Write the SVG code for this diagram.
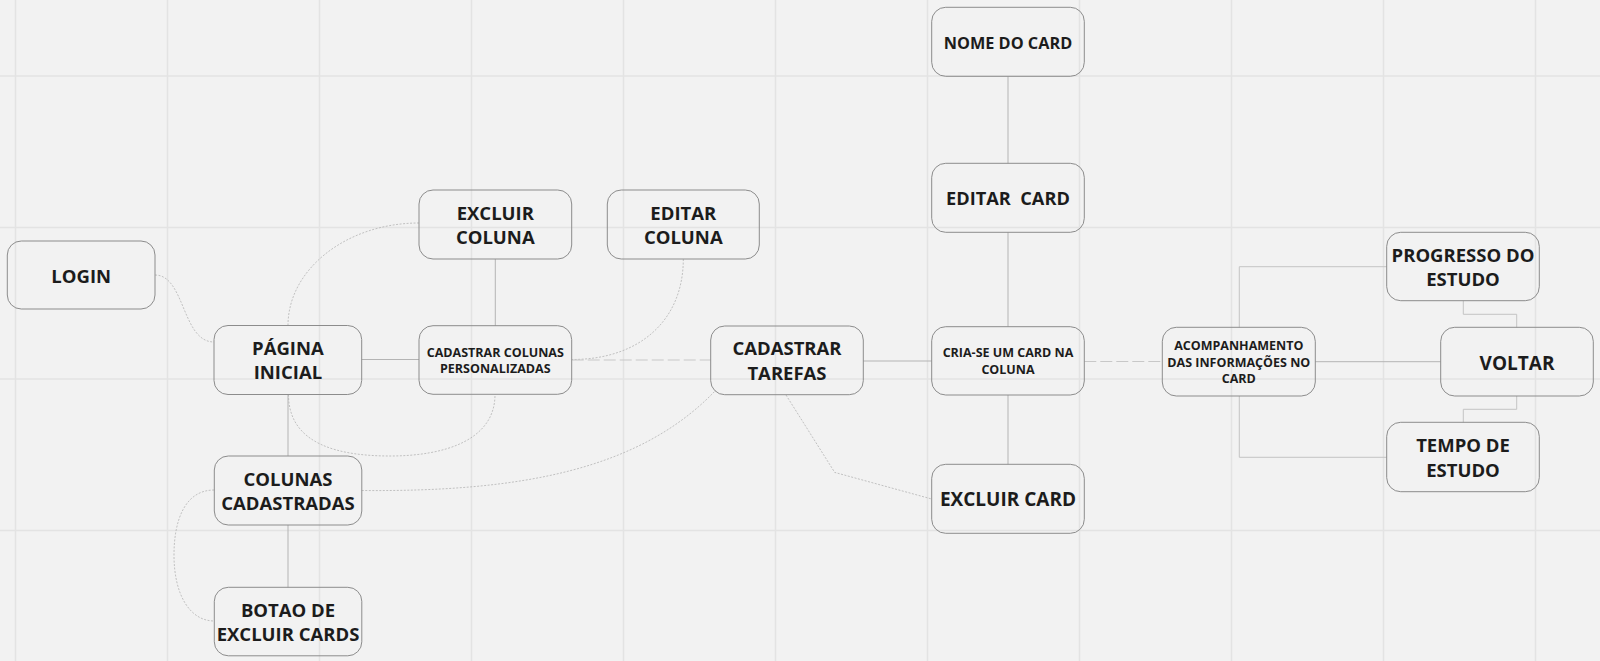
<svg xmlns="http://www.w3.org/2000/svg" width="1600" height="661" viewBox="0 0 1600 661">
<style>
.grid line{stroke:#e3e3e3;stroke-width:1.5}
.node rect{fill:none;stroke:#8c8c8c;stroke-width:1}
.node text{font-family:"Open Sans","Liberation Sans",sans-serif;font-weight:700;fill:#1c1c1c;text-anchor:middle}
.lg{font-size:18.5px}
.sm{font-size:12.5px}
.solid{fill:none;stroke:#b4b4b4;stroke-width:1}
.elbow{fill:none;stroke:#c4c4c4;stroke-width:1}
.dot{fill:none;stroke:#ababab;stroke-width:0.7;stroke-dasharray:2 1.5}
.dash{fill:none;stroke:#c8c8c8;stroke-width:1;stroke-dasharray:12 4}
</style>
<rect x="0" y="0" width="1600" height="661" fill="#f2f2f2"/>
<g class="grid">
<line x1="15.5" y1="0" x2="15.5" y2="661"/>
<line x1="167.5" y1="0" x2="167.5" y2="661"/>
<line x1="319.5" y1="0" x2="319.5" y2="661"/>
<line x1="471.5" y1="0" x2="471.5" y2="661"/>
<line x1="623.5" y1="0" x2="623.5" y2="661"/>
<line x1="775.5" y1="0" x2="775.5" y2="661"/>
<line x1="927.5" y1="0" x2="927.5" y2="661"/>
<line x1="1079.5" y1="0" x2="1079.5" y2="661"/>
<line x1="1231.5" y1="0" x2="1231.5" y2="661"/>
<line x1="1383.5" y1="0" x2="1383.5" y2="661"/>
<line x1="1535.5" y1="0" x2="1535.5" y2="661"/>
<line x1="0" y1="76" x2="1600" y2="76"/>
<line x1="0" y1="227.5" x2="1600" y2="227.5"/>
<line x1="0" y1="379" x2="1600" y2="379"/>
<line x1="0" y1="530.5" x2="1600" y2="530.5"/>
</g>
<g id="connectors">
<path class="dot" d="M155,275 C185,275 182,342 214,342"/>
<path class="dot" d="M288,325.5 C288,269 347,223 419,223"/>
<path class="solid" d="M361.7,359.5 H419"/>
<path class="dot" d="M288.5,394.5 C288.5,445 340,456 390,456 C445,456 495,440 495,394.5"/>
<path class="solid" d="M288,394.5 V456 M288,525 V587.3"/>
<path class="dot" d="M214.3,490 C185,490 174,520 174,555 C174,595 190,621 214.3,621"/>
<path class="dot" d="M361.7,490.5 C520,492 640,470 716,390"/>
<path class="solid" d="M495.3,259 V325.7"/>
<path class="dot" d="M683.3,259 C683.3,320 640,359.5 572,359.5"/>
<path class="dash" d="M571.7,360 H710.7"/>
<path class="solid" d="M863.3,361 H931.7"/>
<path class="dot" d="M786,395 L834.7,472.4 L931.7,499"/>
<path class="solid" d="M1008,76.3 V163.3 M1008,232.3 V326.7 M1008,395 V464.3"/>
<path class="dash" d="M1084.3,361.5 H1162.3"/>
<path class="solid" d="M1315.3,361.7 H1440.7"/>
<path class="elbow" d="M1239.3,327.3 V266.7 H1386.7"/>
<path class="elbow" d="M1239.3,396 V457.3 H1386.7"/>
<path class="elbow" d="M1463.3,300.7 V314.3 H1516.7 V327.3"/>
<path class="elbow" d="M1516.7,396 V409.3 H1463.3 V422.3"/>
</g>
<g id="login" class="node"><rect x="7.3" y="241" width="147.7" height="68" rx="14"/><text class="lg" x="81.2" y="282.7">LOGIN</text></g>
<g id="pagina-inicial" class="node"><rect x="214" y="325.5" width="147.7" height="69" rx="14"/><text class="lg" x="287.9" y="355">PÁGINA</text><text class="lg" x="287.9" y="379.3">INICIAL</text></g>
<g id="colunas-cadastradas" class="node"><rect x="214.3" y="456" width="147.5" height="69" rx="14"/><text class="lg" x="288" y="485.7">COLUNAS</text><text class="lg" x="288" y="510">CADASTRADAS</text></g>
<g id="botao-excluir" class="node"><rect x="214.3" y="587.3" width="147.5" height="68.5" rx="14"/><text class="lg" x="288" y="617">BOTAO DE</text><text class="lg" x="288" y="641">EXCLUIR CARDS</text></g>
<g id="excluir-coluna" class="node"><rect x="419" y="190" width="152.7" height="69" rx="14"/><text class="lg" x="495.3" y="220">EXCLUIR</text><text class="lg" x="495.3" y="244.3">COLUNA</text></g>
<g id="editar-coluna" class="node"><rect x="607.3" y="190" width="152" height="69" rx="14"/><text class="lg" x="683.3" y="220">EDITAR</text><text class="lg" x="683.3" y="244.3">COLUNA</text></g>
<g id="cadastrar-colunas" class="node"><rect x="419" y="325.7" width="152.7" height="68.6" rx="14"/><text class="sm" x="495.3" y="356.7">CADASTRAR COLUNAS</text><text class="sm" x="495.3" y="373">PERSONALIZADAS</text></g>
<g id="cadastrar-tarefas" class="node"><rect x="710.7" y="326" width="152.6" height="68.7" rx="14"/><text class="lg" x="787" y="355.3">CADASTRAR</text><text class="lg" x="787" y="380">TAREFAS</text></g>
<g id="nome-card" class="node"><rect x="931.7" y="7.3" width="152.6" height="69" rx="14"/><text x="1008" y="48.7" style="font-size:16.3px">NOME DO CARD</text></g>
<g id="editar-card" class="node"><rect x="931.7" y="163.3" width="152.6" height="69" rx="14"/><text x="1008" y="204.7" style="font-size:18.2px;white-space:pre">EDITAR  CARD</text></g>
<g id="cria-card" class="node"><rect x="931.7" y="326.7" width="152.6" height="68.3" rx="14"/><text class="sm" x="1008" y="357">CRIA-SE UM CARD NA</text><text class="sm" x="1008" y="373.7">COLUNA</text></g>
<g id="excluir-card" class="node"><rect x="931.7" y="464.3" width="152.6" height="69" rx="14"/><text x="1008" y="506" style="font-size:19px">EXCLUIR CARD</text></g>
<g id="acompanhamento" class="node"><rect x="1162.3" y="327.3" width="153" height="68.7" rx="14"/><text class="sm" x="1238.8" y="350">ACOMPANHAMENTO</text><text class="sm" x="1238.8" y="366.7">DAS INFORMAÇÕES NO</text><text class="sm" x="1238.8" y="383">CARD</text></g>
<g id="progresso" class="node"><rect x="1386.7" y="232.3" width="152.6" height="68.4" rx="14"/><text class="lg" x="1463" y="261.7">PROGRESSO DO</text><text class="lg" x="1463" y="286">ESTUDO</text></g>
<g id="voltar" class="node"><rect x="1440.7" y="327.3" width="152.6" height="68.7" rx="14"/><text x="1517" y="370" style="font-size:19px">VOLTAR</text></g>
<g id="tempo" class="node"><rect x="1386.7" y="422.3" width="152.6" height="69.4" rx="14"/><text class="lg" x="1463" y="451.7">TEMPO DE</text><text class="lg" x="1463" y="476.7">ESTUDO</text></g>
</svg>
